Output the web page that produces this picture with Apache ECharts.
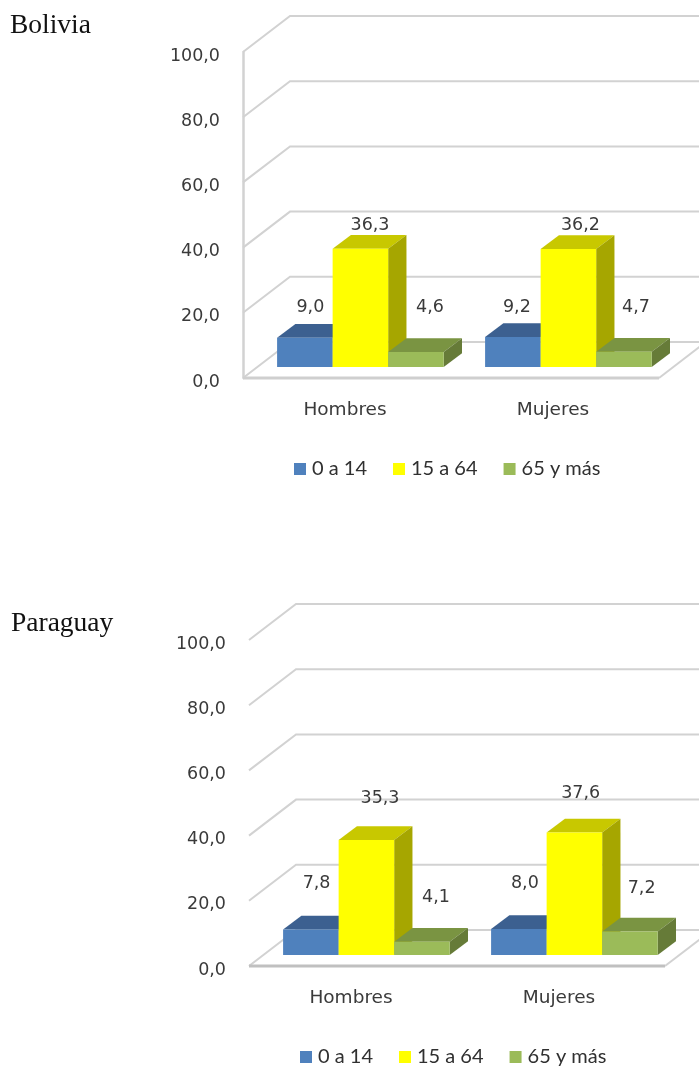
<!DOCTYPE html>
<html><head><meta charset="utf-8">
<style>html,body{margin:0;padding:0;background:#fff}#c{width:699px;height:1067px}</style>
<script src="https://cdn.jsdelivr.net/npm/echarts@6/dist/echarts.min.js"></script>
</head><body><div id="c"></div>
<script>
const categories = ['Hombres', 'Mujeres'];
const ageGroups = ['0 a 14', '15 a 64', '65 y más'];
const yTicks = [0, 20, 40, 60, 80, 100];
const boliviaYoung = [9.0, 9.2];
const boliviaAdult = [36.3, 36.2];
const boliviaOld = [4.6, 4.7];
const paraguayYoung = [7.8, 8.0];
const paraguayAdult = [35.3, 37.6];
const paraguayOld = [4.1, 7.2];

// layout of the hand-placed value labels, relative to each bar's front top centre
const boliviaNudge = [[[5.5,-30.7],[4,-30]],[[9.6,-23.7],[12,-24]],[[14,-45],[12,-44]]];
const paraguayNudge = [[[5.7,-46],[6,-45]],[[13.6,-41],[6.3,-38.7]],[[14,-44.6],[11.7,-43.5]]];

const palette = [
  {front:'#4F81BD', top:'#3C6090', side:'#35557F'},
  {front:'#FFFF00', top:'#C8C800', side:'#A6A600'},
  {front:'#9BBB59', top:'#7A9442', side:'#667B38'}
];
const WALL = {dx:47, dy:-36};
const SHIFT = {dx:13.4, dy:-11};
const DEPTH = {dx:18.3, dy:-13.7};
const BAR_FRACTION = 0.267;
const NUM_FONT = '"DejaVu Sans"';
const fmt = v => v.toFixed(1).replace('.', ',');

function frameSeries(idx, floorColor) {
  return {
    type:'custom', xAxisIndex:idx, yAxisIndex:idx, silent:true, z:1,
    data: yTicks.map(t => [t]),
    encode:{y:0},
    renderItem(params, api) {
      const cs = params.coordSys;
      const t = api.value(0);
      const p = api.coord([0, t]);
      const x0 = cs.x, y = p[1], x1 = cs.x + cs.width;
      const style = {stroke:'#D2D2D2', lineWidth:2, fill:null};
      const children = [{type:'polyline', shape:{points:[[x0,y],[x0+WALL.dx,y+WALL.dy],[x1+WALL.dx,y+WALL.dy]]}, style}];
      if (t === 0) {
        children.push({type:'polyline', shape:{points:[[x1,y],[x1+WALL.dx,y+WALL.dy]]}, style});
        children.push({type:'line', shape:{x1:x0,y1:y,x2:x1,y2:y}, style:{stroke:floorColor, lineWidth:3, fill:null}});
      }
      return {type:'group', children};
    }
  };
}

function barSeries(idx, s, values, nudge) {
  return {
    type:'custom', name:ageGroups[s], xAxisIndex:idx, yAxisIndex:idx, z:2+s,
    itemStyle:{color:palette[s].front},
    data: values.map((v, i) => [i, v]),
    encode:{x:0, y:1},
    renderItem(params, api) {
      const cat = api.value(0), val = api.value(1);
      const base = api.coord([cat, 0]), head = api.coord([cat, val]);
      const w = api.size([1, 0])[0] * BAR_FRACTION;
      const l = base[0] + (s - 1) * w - w / 2 + SHIFT.dx, r = l + w;
      const b = base[1] + SHIFT.dy, t = head[1] + SHIFT.dy;
      const c = palette[s], d = DEPTH, n = nudge[s][cat];
      const poly = (points, fill) => ({type:'polygon', shape:{points}, style:{fill}});
      return {type:'group', children:[
        poly([[l,t],[r,t],[r+d.dx,t+d.dy],[l+d.dx,t+d.dy]], c.top),
        poly([[r,t],[r+d.dx,t+d.dy],[r+d.dx,b+d.dy],[r,b]], c.side),
        poly([[l,t],[r,t],[r,b],[l,b]], c.front),
        {type:'text', z2:10, style:{text:fmt(val), x:(l+r)/2+n[0], y:t+n[1], align:'center', verticalAlign:'middle',
          fontFamily:NUM_FONT, fontSize:17.5, fill:'#3A3A3A'}}
      ]};
    }
  };
}

function axes(idx, left, top, showWall) {
  return {
    grid:{left, top, width:416, height:326},
    x:{type:'category', gridIndex:idx, data:categories, axisLine:{show:false}, axisTick:{show:false},
       axisLabel:{margin:23, padding:[0,4,0,0], fontFamily:NUM_FONT, fontSize:18.5, color:'#3A3A3A'}},
    y:{type:'value', gridIndex:idx, min:0, max:100, interval:20, splitLine:{show:false},
       axisLine:{show:showWall, lineStyle:{color:'#D2D2D2', width:2.5}}, axisTick:{show:false},
       axisLabel:{margin:23, verticalAlign:'top', lineHeight:8, fontFamily:NUM_FONT, fontSize:17.5, color:'#3A3A3A', formatter:v => fmt(v)}}
  };
}
const a0 = axes(0, 243, 52, true), a1 = axes(1, 249, 640, false);

function legend(left, top) {
  return {left, top, padding:0, data:ageGroups, icon:'rect', itemWidth:12, itemHeight:12, itemGap:26,
    textStyle:{fontFamily:'Lato', fontSize:20, color:'#303030', padding:[0,0,0,1]}};
}

const chart = echarts.init(document.getElementById('c'));
chart.setOption({
  animation:false,
  backgroundColor:'#fff',
  title:[
    {text:'Bolivia', left:10, top:12, padding:0, textStyle:{fontFamily:'Liberation Serif', fontWeight:'normal', fontSize:27.5, color:'#111'}},
    {text:'Paraguay', left:11, top:610, padding:0, textStyle:{fontFamily:'Liberation Serif', fontWeight:'normal', fontSize:27.5, color:'#111'}}
  ],
  legend:[legend(294, 459), legend(300, 1047)],
  grid:[a0.grid, a1.grid],
  xAxis:[a0.x, a1.x],
  yAxis:[a0.y, a1.y],
  series:[
    frameSeries(0, '#CFCFCF'),
    barSeries(0, 0, boliviaYoung, boliviaNudge),
    barSeries(0, 1, boliviaAdult, boliviaNudge),
    barSeries(0, 2, boliviaOld, boliviaNudge),
    frameSeries(1, '#C0C0C0'),
    barSeries(1, 0, paraguayYoung, paraguayNudge),
    barSeries(1, 1, paraguayAdult, paraguayNudge),
    barSeries(1, 2, paraguayOld, paraguayNudge)
  ]
});
</script></body></html>
